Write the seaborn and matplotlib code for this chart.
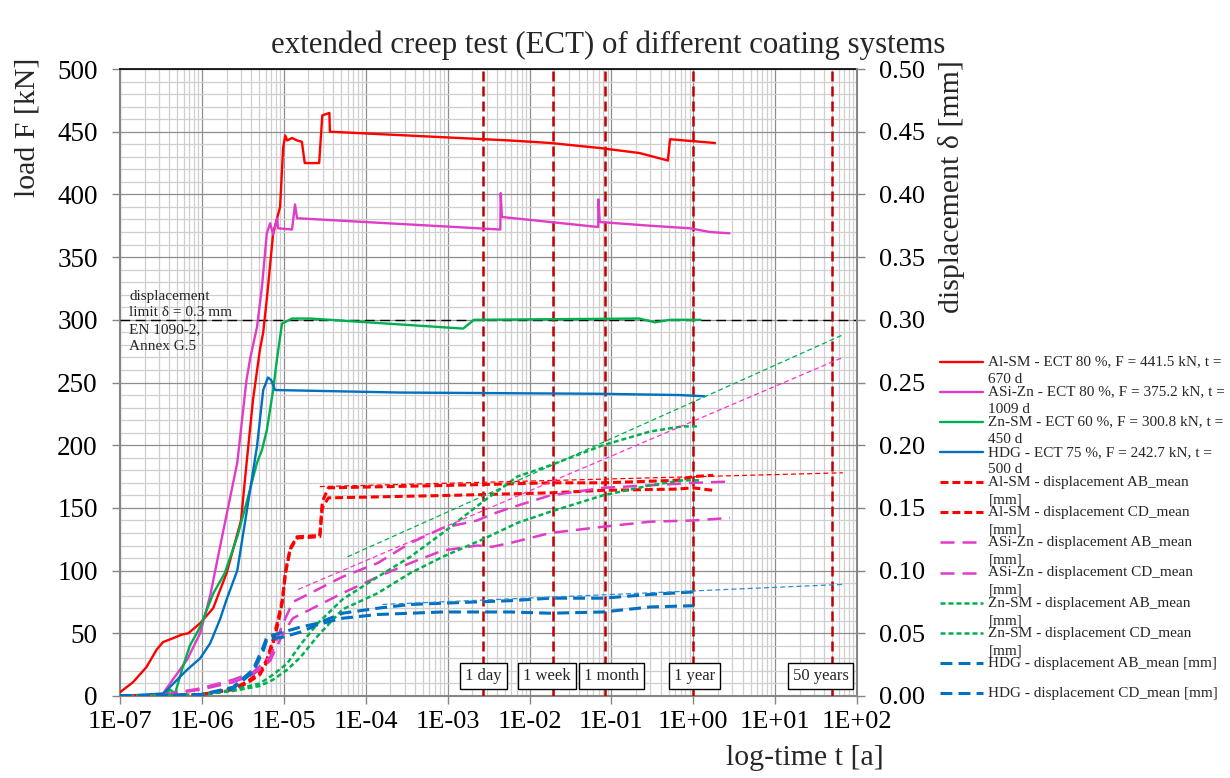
import numpy as np
import matplotlib
matplotlib.use("Agg")
import matplotlib.pyplot as plt
import seaborn as sns
from matplotlib.ticker import LogLocator, MultipleLocator, FuncFormatter, NullFormatter, FormatStrFormatter

# ----------------------------------------
# Data (time in years, load in kN, displacement in mm)
# ----------------------------------------
al_t = [1.0e-7, 1.44e-7, 2.1e-7, 2.8e-7, 3.35e-7, 4.4e-7, 5.7e-7, 6.8e-7, 9.5e-7, 1.37e-6,
        2.0e-6, 3.0e-6, 3.5e-6, 4.2e-6, 5.1e-6, 5.6e-6, 6.3e-6, 7.4e-6, 9.0e-6, 9.8e-6,
        1.04e-5, 1.1e-5, 1.26e-5, 1.45e-5, 1.66e-5, 1.8e-5, 2.7e-5, 2.95e-5, 3.6e-5, 3.65e-5,
        5.8e-3, 0.018, 0.072, 0.22, 0.49, 0.52, 1.84]
al_F = [3, 11, 23, 37, 43, 46, 49, 50, 58, 70,
        98, 140, 185, 236, 276, 290, 321, 369, 390, 437,
        447, 443, 445, 443, 442, 425, 425, 463, 465, 450,
        443, 441, 437, 433, 427, 444, 441]

asi_t = [1.0e-7, 2.7e-7, 3.35e-7, 4.4e-7, 6.6e-7, 9.5e-7, 1.26e-6, 1.8e-6, 2.7e-6, 3.5e-6,
         3.9e-6, 4.7e-6, 5.4e-6, 6.2e-6, 6.8e-6, 7.4e-6, 8.3e-6, 8.5e-6, 1.26e-5, 1.37e-5,
         1.45e-5, 4.4e-3, 4.45e-3, 4.6e-3, 0.069, 0.0695, 0.072, 0.30, 0.91, 1.6, 2.76]
asi_F = [0, 0, 2, 13, 29, 50, 80, 130, 186, 252,
         270, 294, 326, 369, 377, 368, 381, 373, 372, 392,
         381, 372, 401, 382, 374, 396, 378, 375, 373, 370, 369]

zn_t = [1.0e-7, 3.4e-7, 4.1e-7, 4.7e-7, 5.7e-7, 7.1e-7, 9.5e-7, 1.38e-6, 1.9e-6, 2.7e-6,
        3.5e-6, 4.7e-6, 5.4e-6, 6.2e-6, 7.4e-6, 8.3e-6, 9.5e-6, 1.26e-5, 2.1e-5, 1.55e-3,
        2.1e-3, 0.22, 0.34, 0.52, 1.23]
zn_F = [0, 0, 5, 2, 21, 40, 55, 82, 98, 127,
        154, 186, 196, 212, 244, 270, 297, 301, 301, 293,
        300, 301, 298, 300, 300]

hdg_t = [1.0e-7, 3.4e-7, 6.6e-7, 9.5e-7, 1.26e-6, 1.66e-6, 2.0e-6, 2.7e-6, 3.5e-6, 4.7e-6,
         5.6e-6, 6.4e-6, 7.0e-6, 7.8e-6, 2.6e-4, 0.072, 0.69, 1.37]
hdg_F = [0, 2, 21, 30, 42, 61, 77, 100, 146, 199,
         244, 254, 252, 244, 242, 241, 240, 239]

# displacements
al_d_t = [1.0e-7, 9.5e-7, 2.4e-6, 3.5e-6, 5.1e-6, 6.2e-6, 7.4e-6, 8.5e-6, 9.6e-6, 1.05e-5,
          1.2e-5, 1.45e-5, 2.75e-5, 2.95e-5, 3.5e-5, 1.1e-3, 0.018, 0.078, 0.63, 1.0, 1.75]
al_ab = [0, 0.001, 0.006, 0.011, 0.019, 0.029, 0.045, 0.061, 0.077, 0.100,
         0.118, 0.127, 0.128, 0.155, 0.166, 0.168, 0.170, 0.170, 0.172, 0.175, 0.176]
al_cd = [0, 0.001, 0.005, 0.010, 0.017, 0.027, 0.042, 0.058, 0.075, 0.098,
         0.117, 0.126, 0.127, 0.150, 0.158, 0.160, 0.162, 0.164, 0.165, 0.166, 0.164]

asi_d_t = [1.0e-7, 2.7e-7, 9.5e-7, 2.4e-6, 4.2e-6, 6.8e-6, 9.8e-6, 1.29e-5, 2.1e-5, 5.2e-5,
           1.4e-4, 3.5e-4, 8.7e-4, 2.3e-3, 3.5e-3, 5.8e-3, 0.018, 0.079, 0.30, 1.0, 2.8]
asi_ab = [0, 0, 0.006, 0.013, 0.019, 0.031, 0.058, 0.075, 0.082, 0.095,
          0.106, 0.122, 0.134, 0.140, 0.145, 0.150, 0.160, 0.166, 0.168, 0.170, 0.171]
asi_cd = [0, 0, 0.005, 0.011, 0.017, 0.028, 0.050, 0.062, 0.069, 0.082,
          0.095, 0.106, 0.116, 0.120, 0.119, 0.122, 0.130, 0.135, 0.139, 0.140, 0.142]

zn_d_t = [1.0e-7, 9.5e-7, 2.4e-6, 5.1e-6, 7.4e-6, 1.1e-5, 1.6e-5, 2.6e-5, 5.2e-5, 1.4e-4,
          3.5e-4, 8.7e-4, 2.7e-3, 7.1e-3, 0.018, 0.079, 0.30, 0.74, 1.2]
zn_ab = [0, 0.001, 0.005, 0.010, 0.017, 0.026, 0.041, 0.058, 0.077, 0.095,
         0.111, 0.130, 0.155, 0.175, 0.184, 0.200, 0.211, 0.215, 0.215]
zn_cd = [0, 0.001, 0.004, 0.008, 0.013, 0.021, 0.031, 0.048, 0.069, 0.082,
         0.098, 0.111, 0.125, 0.138, 0.147, 0.160, 0.168, 0.172, 0.172]

hdg_d_t = [1.0e-7, 9.5e-7, 2.4e-6, 4.2e-6, 5.6e-6, 6.2e-6, 9.8e-6, 1.6e-5, 2.6e-5, 5.2e-5,
           1.4e-4, 3.5e-4, 8.7e-4, 5.8e-3, 0.018, 0.079, 0.30, 1.0]
hdg_ab = [0, 0.001, 0.007, 0.021, 0.039, 0.047, 0.051, 0.055, 0.058, 0.066,
          0.070, 0.073, 0.074, 0.076, 0.078, 0.078, 0.081, 0.083]
hdg_cd = [0, 0.001, 0.006, 0.019, 0.036, 0.045, 0.047, 0.051, 0.057, 0.062,
          0.065, 0.066, 0.067, 0.067, 0.066, 0.067, 0.071, 0.072]

# logarithmic trend lines (start / end)
al_trend_t, al_trend_d = [2.75e-5, 67], [0.167, 0.178]
asi_trend_t, asi_trend_d = [1.5e-5, 67], [0.085, 0.270]
zn_trend_t, zn_trend_d = [6.0e-5, 67], [0.111, 0.288]
hdg_trend_t, hdg_trend_d = [1.6e-4, 67], [0.073, 0.089]

event_names = ["1 day", "1 week", "1 month", "1 year", "50 years"]
event_times = [1 / 365, 7 / 365, 1 / 12, 1.0, 50.0]
event_label_shift = [0, -4, 4.7, 0.7, -8.6]

load_labels = ["Al-SM - ECT 80 %, F = 441.5 kN, t =\n670 d",
               "ASi-Zn - ECT 80 %, F = 375.2 kN, t =\n1009 d",
               "Zn-SM - ECT 60 %, F = 300.8 kN, t =\n450 d",
               "HDG - ECT 75 %, F = 242.7 kN, t =\n500 d"]
disp_labels = ["Al-SM - displacement AB_mean\n[mm]",
               "Al-SM - displacement CD_mean\n[mm]",
               "ASi-Zn - displacement AB_mean\n[mm]",
               "ASi-Zn - displacement CD_mean\n[mm]",
               "Zn-SM - displacement AB_mean\n[mm]",
               "Zn-SM - displacement CD_mean\n[mm]",
               "HDG - displacement AB_mean [mm]",
               "HDG - displacement CD_mean [mm]"]

RED, MAG, GRN, BLU = "#FF0000", "#E03CC8", "#00B050", "#0070C0"

# ----------------------------------------
# Style
# ----------------------------------------
sns.set_theme(style="white")
plt.rcParams["font.family"] = ["Liberation Serif", "DejaVu Serif"]

fig = plt.figure(figsize=(12.3, 7.78), dpi=100)
ax = fig.add_axes([0.0976, 0.1054, 0.5992, 0.8059])
ax.set_xscale("log")
ax2 = ax.twinx()

# load curves
for t, F, c, lab in [(al_t, al_F, RED, load_labels[0]), (asi_t, asi_F, MAG, load_labels[1]),
                     (zn_t, zn_F, GRN, load_labels[2]), (hdg_t, hdg_F, BLU, load_labels[3])]:
    sns.lineplot(x=t, y=F, ax=ax, sort=False, estimator=None, legend=False,
                 color=c, lw=1.7, label=lab, zorder=4)

# displacement curves
disp_series = [(al_d_t, al_ab, RED, (0, (2.6, 1.3)), 2.2),
               (al_d_t, al_cd, RED, (0, (2.6, 1.3)), 2.2),
               (asi_d_t, asi_ab, MAG, (0, (5.6, 3.2)), 1.8),
               (asi_d_t, asi_cd, MAG, (0, (5.6, 3.2)), 1.8),
               (zn_d_t, zn_ab, GRN, (0, (2.0, 1.2)), 1.8),
               (zn_d_t, zn_cd, GRN, (0, (2.0, 1.2)), 1.8),
               (hdg_d_t, hdg_ab, BLU, (0, (3.9, 2.0)), 2.2),
               (hdg_d_t, hdg_cd, BLU, (0, (3.9, 2.0)), 2.2)]
for (t, d, c, ls, lw), lab in zip(disp_series, disp_labels):
    sns.lineplot(x=t, y=d, ax=ax2, sort=False, estimator=None, legend=False,
                 color=c, lw=lw, linestyle=ls, label=lab)

# trend lines
for t, d, c in [(al_trend_t, al_trend_d, RED), (asi_trend_t, asi_trend_d, "#FF33CC"),
                (zn_trend_t, zn_trend_d, GRN), (hdg_trend_t, hdg_trend_d, "#2E8BD8")]:
    sns.lineplot(x=t, y=d, ax=ax2, sort=False, estimator=None, legend=False,
                 color=c, lw=0.9, linestyle=(0, (4, 2.5)))

# displacement limit
ax.axhline(300, color="black", lw=1.0, linestyle=(0, (7, 4)), zorder=3)
ax.text(1.3e-7, 301, "displacement\nlimit δ = 0.3 mm", fontsize=11, ha="left", va="bottom",
        linespacing=1.3)
ax.text(1.3e-7, 297, "EN 1090-2,\nAnnex G.5", fontsize=11, ha="left", va="top", linespacing=1.3)

# time markers
for name, t, sh in zip(event_names, event_times, event_label_shift):
    ax.axvline(t, color="#C00000", lw=1.8, linestyle=(0, (4, 2)), zorder=3)
    ax.annotate(name, xy=(t, 0.032), xycoords=("data", "axes fraction"), xytext=(sh, 0),
                textcoords="offset points", ha="center", va="center", fontsize=12, zorder=6,
                bbox=dict(boxstyle="square,pad=0.3", fc="white", ec="black", lw=1))

# ----------------------------------------
# Axes formatting
# ----------------------------------------
ax.set_xlim(1e-7, 1e2)
ax.set_ylim(0, 500)
ax2.set_ylim(0, 0.5)
ax.xaxis.set_major_locator(LogLocator(base=10, numticks=20))
ax.xaxis.set_minor_locator(LogLocator(base=10, subs=np.arange(2, 10), numticks=20))
ax.xaxis.set_minor_formatter(NullFormatter())
ax.xaxis.set_major_formatter(FuncFormatter(lambda v, p: f"{v:.0E}"))
ax.yaxis.set_major_locator(MultipleLocator(50))
ax.yaxis.set_minor_locator(MultipleLocator(10))
ax2.yaxis.set_major_locator(MultipleLocator(0.05))
ax2.yaxis.set_major_formatter(FormatStrFormatter("%.2f"))

ax.grid(True, which="major", color="#8e8e8e", lw=0.9)
ax.grid(True, which="minor", color="#cfcfcf", lw=0.9)
ax.set_axisbelow(True)

ax.tick_params(which="major", direction="out", length=6, width=1, color="#868686",
               labelsize=19, labelcolor="black")
ax.tick_params(which="minor", length=0)
ax.tick_params(axis="x", pad=5)
ax.tick_params(axis="y", pad=10, left=True, labelsize=19.5)
ax.tick_params(axis="x", bottom=True)
ax2.tick_params(axis="y", direction="out", length=6, width=1, color="#868686",
                labelsize=19, labelcolor="black", pad=10, right=True)

for s in ["left", "bottom"]:
    ax.spines[s].set_color("#868686")
    ax.spines[s].set_linewidth(1.5)
ax.spines["top"].set_color("black")
ax.spines["top"].set_linewidth(1.2)
ax.spines["right"].set_visible(False)
for s in ["left", "bottom", "top"]:
    ax2.spines[s].set_visible(False)
ax2.spines["right"].set_color("#868686")
ax2.spines["right"].set_linewidth(1.5)

ax.set_ylabel("load F [kN]", fontsize=21.5, loc="top")
ax.yaxis.set_label_coords(-0.1085, 1.0175)
ax2.set_ylabel("displacement δ [mm]", fontsize=21.5, loc="top")
ax2.yaxis.set_label_coords(1.110, 1.0144)
ax.set_xlabel("log-time t [a]", fontsize=21.5, loc="right")
ax.xaxis.set_label_coords(1.0366, -0.078)

fig.text(0.4947, 0.942, "extended creep test (ECT) of different coating systems",
         ha="center", va="center", fontsize=22.2)

# legend (blank lines keep the marker beside the first text line)
h1, l1 = ax.get_legend_handles_labels()
h2, l2 = ax2.get_legend_handles_labels()
labels = []
for lab in l1 + l2:
    labels.append("\n" + lab if "\n" in lab else "\n" + lab + "\n")
leg = fig.legend(h1 + h2, labels, loc="upper left", bbox_to_anchor=(0.7533, 0.5834),
                 frameon=False, fontsize=11, handlelength=2.8, handletextpad=0.35,
                 labelspacing=-1.168, borderpad=0.4)
for txt in leg.get_texts():
    txt.set_linespacing(1.45)

fig.savefig("out.png", dpi=100)
